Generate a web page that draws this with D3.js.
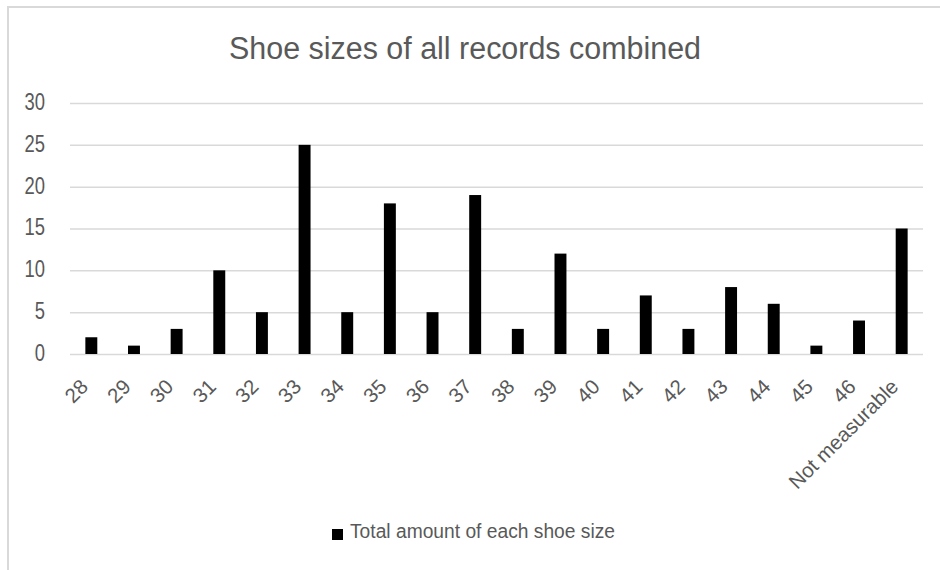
<!DOCTYPE html>
<html>
<head>
<meta charset="utf-8">
<script src="https://cdn.jsdelivr.net/npm/d3@7/dist/d3.min.js"></script>
<style>
  html, body { margin: 0; padding: 0; background: #fff; }
  svg { display: block; }
  text { font-family: "Liberation Sans", Arial, sans-serif; fill: #595959; }
</style>
</head>
<body>
<svg id="chart" width="940" height="570"></svg>
<script>
const title = "Shoe sizes of all records combined";
const seriesName = "Total amount of each shoe size";
const categories = ["28","29","30","31","32","33","34","35","36","37","38","39","40","41","42","43","44","45","46","Not measurable"];
const values = [2,1,3,10,5,25,5,18,5,19,3,12,3,7,3,8,6,1,4,15];
const yTicks = [0,5,10,15,20,25,30];

const W = 940, H = 570;
const margin = {left: 70, right: 17, top: 103, bottom: 216};
const svg = d3.select("#chart");

// chart area border (top and left visible)
svg.append("path")
  .attr("d", `M8,${H + 5} L8,7 L${W + 5},7`)
  .attr("fill", "none").attr("stroke", "#d9d9d9").attr("stroke-width", 2);

const x = d3.scaleBand().domain(categories)
  .range([margin.left, W - margin.right]).paddingInner(0.72).paddingOuter(0.36);
const y = d3.scaleLinear().domain([0, 30]).range([H - margin.bottom, margin.top]);

function condense(sel, k) {
  sel.each(function() {
    const len = this.getComputedTextLength();
    d3.select(this).attr("textLength", len * k).attr("lengthAdjust", "spacingAndGlyphs");
  });
}

// gridlines
const yAxis = d3.axisLeft(y).tickValues(yTicks).tickSize(-(W - margin.left - margin.right)).tickPadding(25);
const gy = svg.append("g").attr("transform", `translate(${margin.left},0)`).call(yAxis);
gy.select(".domain").remove();
gy.selectAll(".tick line").attr("stroke", "#d9d9d9").attr("stroke-width", 1.5);
gy.selectAll(".tick text")
  .attr("font-size", 23).attr("fill", "#595959").attr("dy", "0.28em")
  .style("font-family", "'Liberation Sans', Arial, sans-serif")
  .call(condense, 0.8);

// bars
svg.append("g").selectAll("rect").data(values).join("rect")
  .attr("x", (d, i) => x(categories[i]))
  .attr("width", x.bandwidth())
  .attr("y", d => y(d))
  .attr("height", d => y(0) - y(d))
  .attr("fill", "#000");

// x labels
const xAxis = d3.axisBottom(x).tickSize(0).tickPadding(0);
const gx = svg.append("g").attr("transform", `translate(0,${y(0)})`).call(xAxis);
gx.select(".domain").remove();
gx.selectAll(".tick text")
  .attr("font-size", 20.5).attr("fill", "#6a6a6a")
  .style("font-family", "'Liberation Sans', Arial, sans-serif")
  .attr("text-anchor", "end")
  .attr("x", 0).attr("y", 0).attr("dy", 0)
  .attr("transform", "translate(-2,34) rotate(-45)");

// title
svg.append("text").attr("x", 465).attr("y", 59)
  .attr("text-anchor", "middle").attr("font-size", 31)
  .attr("textLength", 472).attr("lengthAdjust", "spacingAndGlyphs")
  .text(title);

// legend
svg.append("rect").attr("x", 332).attr("y", 529).attr("width", 11).attr("height", 11).attr("fill", "#000");
svg.append("text").attr("x", 350).attr("y", 538)
  .attr("font-size", 20).attr("textLength", 265).attr("lengthAdjust", "spacingAndGlyphs")
  .text(seriesName);
</script>
</body>
</html>
